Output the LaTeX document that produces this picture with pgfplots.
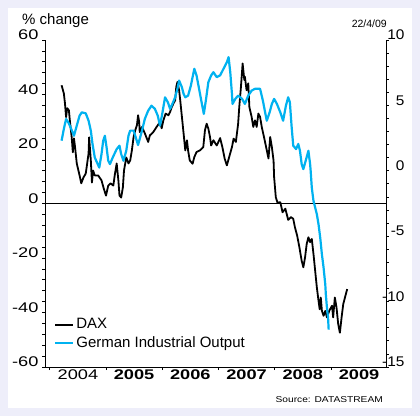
\documentclass[border=0pt]{standalone}
\usepackage{pgfplots}
\pgfplotsset{compat=1.18}
\usepackage{fontspec}
\setmainfont{Liberation Sans}
\newfontfamily\widefont[FakeStretch=1.3]{Liberation Sans}
\newfontfamily\rwidefont[FakeStretch=1.1]{Liberation Sans}
\newfontfamily\srcfont[FakeStretch=1.2]{Liberation Sans}
\definecolor{bgl}{RGB}{238,238,250}
\definecolor{ioblue}{RGB}{0,178,240}

\pgfplotstableread{
year dax
2004.21 43.4
2004.25 40.4
2004.27 36.8
2004.29 31.7
2004.31 35.0
2004.34 34.2
2004.36 29.8
2004.39 24.3
2004.41 18.8
2004.43 23.9
2004.45 20.6
2004.48 14.7
2004.53 10.3
2004.56 7.4
2004.60 9.6
2004.64 11.0
2004.69 18.4
2004.70 24.3
2004.73 15.8
2004.75 7.7
2004.77 12.1
2004.80 10.3
2004.86 10.3
2004.92 8.5
2004.96 5.5
2005.00 2.9
2005.04 6.6
2005.08 7.4
2005.13 6.6
2005.16 11.0
2005.19 14.7
2005.22 8.5
2005.24 2.9
2005.27 2.2
2005.30 5.9
2005.32 12.1
2005.36 16.9
2005.40 14.7
2005.43 15.8
2005.46 19.5
2005.49 24.3
2005.52 26.9
2005.55 28.7
2005.57 32.4
2005.59 29.9
2005.60 26.2
2005.64 28.1
2005.69 25.8
2005.75 22.6
2005.78 25.0
2005.84 26.2
2005.90 28.1
2005.96 29.9
2005.99 27.6
2006.02 30.5
2006.06 33.0
2006.11 32.4
2006.14 33.6
2006.17 35.4
2006.20 36.7
2006.23 37.9
2006.25 42.8
2006.27 44.6
2006.30 41.6
2006.32 37.9
2006.35 31.8
2006.38 25.7
2006.41 19.5
2006.44 23.2
2006.46 19.5
2006.49 15.8
2006.54 14.6
2006.57 17.0
2006.61 18.9
2006.67 19.5
2006.73 20.7
2006.76 26.9
2006.79 29.3
2006.82 27.5
2006.85 24.4
2006.87 21.3
2006.91 23.2
2006.97 21.3
2007.03 24.0
2007.07 20.7
2007.11 16.5
2007.15 14.0
2007.19 17.0
2007.24 20.7
2007.27 23.8
2007.31 22.6
2007.35 29.3
2007.37 35.4
2007.40 42.8
2007.43 51.4
2007.46 45.3
2007.47 46.5
2007.50 41.6
2007.53 44.1
2007.55 35.4
2007.59 31.8
2007.62 28.1
2007.65 30.5
2007.68 28.1
2007.71 33.0
2007.74 31.8
2007.77 28.1
2007.81 24.4
2007.86 19.5
2007.89 16.5
2007.92 24.4
2007.95 20.7
2007.98 15.8
2007.99 9.7
2008.02 2.3
2008.05 0.3
2008.10 0.5
2008.14 -3.2
2008.19 -1.9
2008.24 -6.0
2008.29 -5.0
2008.33 -5.6
2008.36 -8.7
2008.40 -11.8
2008.44 -16.1
2008.48 -21.0
2008.51 -23.4
2008.54 -19.8
2008.57 -14.8
2008.60 -12.4
2008.63 -14.2
2008.66 -13.0
2008.69 -18.5
2008.72 -24.7
2008.75 -30.8
2008.78 -35.7
2008.80 -38.8
2008.82 -34.5
2008.84 -39.4
2008.87 -41.2
2008.90 -39.4
2008.93 -41.8
2008.97 -39.4
2009.02 -37.5
2009.04 -41.8
2009.07 -34.5
2009.10 -38.2
2009.13 -44.3
2009.16 -47.4
2009.19 -41.8
2009.22 -36.9
2009.25 -34.5
2009.29 -31.4
}\daxtable

\pgfplotstableread{
year io
2004.21 2.30
2004.25 3.20
2004.29 3.96
2004.33 3.70
2004.37 3.32
2004.43 2.68
2004.48 3.45
2004.53 4.22
2004.57 4.47
2004.64 4.39
2004.69 3.83
2004.73 3.07
2004.76 2.05
2004.80 1.02
2004.88 0.25
2004.92 1.28
2004.95 2.30
2004.98 2.68
2005.01 1.79
2005.04 0.77
2005.07 0.51
2005.12 1.02
2005.19 1.66
2005.24 1.92
2005.27 1.28
2005.31 0.77
2005.36 1.53
2005.40 2.68
2005.43 3.07
2005.49 3.07
2005.52 2.68
2005.57 1.97
2005.64 3.07
2005.69 3.96
2005.75 4.60
2005.81 4.98
2005.87 4.73
2005.92 4.22
2005.96 3.45
2006.00 4.35
2006.05 5.62
2006.10 5.24
2006.14 4.73
2006.18 5.11
2006.23 5.62
2006.27 6.27
2006.30 6.90
2006.35 6.39
2006.38 5.88
2006.41 5.62
2006.46 5.75
2006.51 6.52
2006.57 7.80
2006.61 7.29
2006.65 6.39
2006.70 5.24
2006.74 4.35
2006.78 5.50
2006.82 6.77
2006.87 7.29
2006.91 7.54
2006.97 7.16
2007.03 7.30
2007.09 7.80
2007.15 8.31
2007.18 8.69
2007.21 7.54
2007.24 5.88
2007.25 5.11
2007.30 5.50
2007.35 5.75
2007.42 5.50
2007.47 5.11
2007.53 5.75
2007.59 6.13
2007.65 6.27
2007.74 6.27
2007.79 5.37
2007.83 4.47
2007.86 3.83
2007.91 4.47
2007.95 5.11
2007.99 5.50
2008.04 5.11
2008.10 4.47
2008.15 3.83
2008.20 4.98
2008.24 5.62
2008.27 5.24
2008.30 3.45
2008.33 1.92
2008.38 1.66
2008.42 2.05
2008.45 1.53
2008.48 0.51
2008.51 0.13
2008.56 0.90
2008.60 1.53
2008.63 0.51
2008.64 0.00
2008.66 -1.28
2008.69 -2.30
2008.72 -2.81
2008.75 -3.32
2008.78 -4.09
2008.81 -5.11
2008.84 -6.39
2008.87 -7.42
2008.90 -8.69
2008.91 -9.46
2008.93 -10.48
2008.95 -11.25
2008.96 -12.14
}\iotable

\begin{document}
\begin{tikzpicture}[x=1pt,y=1pt]
\fill[bgl] (0,0) rectangle (420,416);
\fill[white] (8,8) rectangle (412,408);
\begin{axis}[
  at={(45pt,49pt)}, anchor=south west,
  scale only axis, width=341pt, height=327pt,
  xmin=2003.915, xmax=2009.98, ymin=-60, ymax=60,
  axis x line*=bottom, axis y line*=left,
  axis line style={-, line width=1pt, black},
  tick align=outside,
  major tick length=3pt, minor tick length=3pt,
  tick style={black, line width=0.8pt},
  xtick={2004.5,2005.5,2006.5,2007.5,2008.5,2009.5},
  xticklabels={2004,\bfseries 2005,\bfseries 2006,\bfseries 2007,\bfseries 2008,\bfseries 2009},
  every major x tick/.append style={draw=none},
  minor xtick={2004,2005,2006,2007,2008,2009},
  xticklabel style={font=\widefont\fontsize{14}{14}\selectfont, yshift=4pt},
  ytick={-60,-40,-20,0,20,40,60},
  yticklabels={-60,-40,-20,0,20,40,60},
  minor ytick={-56,-52,-48,-44,-36,-32,-28,-24,-16,-12,-8,-4,4,8,12,16,24,28,32,36,44,48,52,56},
  yticklabel style={font=\widefont\fontsize{14}{14}\selectfont, yshift=5pt},
  clip=false,
]
\draw[black, line width=0.8pt] (axis cs:2003.915,0) -- (axis cs:2009.98,0);
\addplot[black, line width=1.8pt, line join=round] table[x=year, y=dax] {\daxtable};
\end{axis}
\begin{axis}[
  at={(45pt,49pt)}, anchor=south west,
  scale only axis, width=341pt, height=327pt,
  xmin=2003.915, xmax=2009.98, ymin=-15, ymax=10,
  axis x line=none, axis y line*=right,
  axis line style={-, line width=1pt, black},
  tick align=outside,
  major tick length=3pt, minor tick length=3pt,
  tick style={black, line width=0.8pt},
  ytick={-15,-10,-5,0,5,10},
  yticklabels={-15,-10,-5,0,5,10},
  minor ytick={-14,-13,-12,-11,-9,-8,-7,-6,-4,-3,-2,-1,1,2,3,4,6,7,8,9},
  yticklabel style={font=\rwidefont\fontsize{14}{14}\selectfont, anchor=east, xshift=19pt, yshift=5pt},
  legend style={at={(0,0)}, anchor=south west, xshift=6pt, yshift=14pt, draw=none, fill=none,
    font=\fontsize{15}{15}\selectfont, row sep=2pt},
  legend cell align=left,
  legend image code/.code={\draw[#1] (0pt,0pt) -- (18pt,0pt);},
  clip=false,
]
\addlegendimage{black, line width=2pt}
\addlegendentry{DAX}
\addplot[ioblue, line width=2.2pt, line join=round] table[x=year, y=io] {\iotable};
\addlegendentry{German Industrial Output}
\end{axis}
\node[anchor=base west, font=\fontsize{15}{15}\selectfont, inner sep=0pt] at (22,391) {\% change};
\node[anchor=base east, font=\fontsize{10.5}{10.5}\selectfont, inner sep=0pt] at (387,388) {22/4/09};
\node[anchor=base east, font=\srcfont\fontsize{8.5}{8.5}\selectfont, inner sep=0pt] at (383,14) {Source: DATASTREAM};
\end{tikzpicture}
\end{document}
